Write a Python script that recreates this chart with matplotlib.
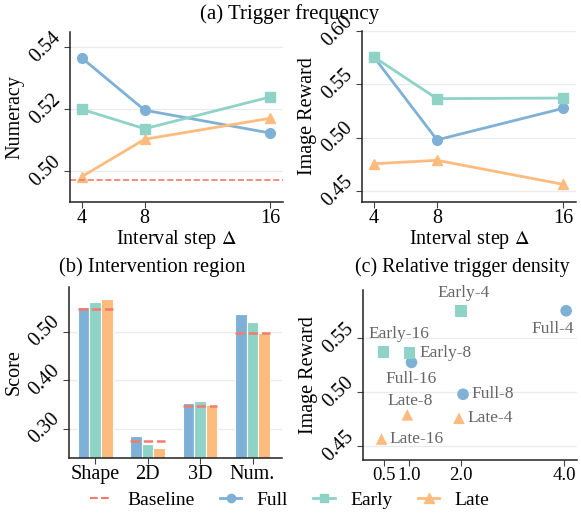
import numpy as np
import matplotlib
matplotlib.use("Agg")
import matplotlib.pyplot as plt
from matplotlib.lines import Line2D

plt.rcParams['font.family'] = ['Liberation Serif', 'DejaVu Serif']
plt.rcParams['font.size'] = 14.5
plt.rcParams['mathtext.fontset'] = 'stix'

# colours
C_FULL = '#7fb0d5'
C_EARLY = '#8fd2c6'
C_LATE = '#fdbb7e'
C_BASE = '#f47a6c'

# (a) trigger frequency
steps = [4, 8, 16]
num_full = [0.5366, 0.5197, 0.5123]
num_early = [0.5200, 0.5137, 0.5240]
num_late = [0.4982, 0.5103, 0.5171]
num_baseline = 0.497

ir_full = [0.5757, 0.4981, 0.5277]
ir_early = [0.5757, 0.5367, 0.5373]
ir_late = [0.4758, 0.4790, 0.4565]

# (b) intervention region
regions = ['Shape', '2D', '3D', 'Num.']
reg_full = [0.5514, 0.2863, 0.3540, 0.5356]
reg_early = [0.5610, 0.2692, 0.3568, 0.5199]
reg_late = [0.5678, 0.2610, 0.3486, 0.4973]
reg_baseline = [0.546, 0.274, 0.348, 0.497]

# (c) relative trigger density
dens_labels = ['Full-4', 'Full-8', 'Full-16', 'Early-4', 'Early-8', 'Early-16',
               'Late-4', 'Late-8', 'Late-16']
dens_group = ['Full'] * 3 + ['Early'] * 3 + ['Late'] * 3
dens_x = [4.0, 2.0, 1.0, 2.0, 1.0, 0.5, 2.0, 1.0, 0.5]
dens_y = [0.5757, 0.4981, 0.5277, 0.5757, 0.5367, 0.5373, 0.4758, 0.4790, 0.4565]

W, H = 581, 513
fig = plt.figure(figsize=(W / 100, H / 100), dpi=100)


def add_ax(x0, y0, x1, y1):
    return fig.add_axes([x0 / W, 1 - y1 / H, (x1 - x0) / W, (y1 - y0) / H])


def style(ax):
    for s in ['top', 'right']:
        ax.spines[s].set_visible(False)
    for s in ['left', 'bottom']:
        ax.spines[s].set_color('#222222')
        ax.spines[s].set_linewidth(1.1)
    ax.grid(axis='y', color='#ebebeb', linewidth=1)
    ax.set_axisbelow(True)
    ax.tick_params(axis='y', labelrotation=45, length=4, pad=0, color='#444444')
    ax.tick_params(axis='x', length=4, pad=1, color='#444444')
    for lab in ax.get_yticklabels():
        lab.set_va('center')


styles = {
    'Full': dict(color=C_FULL, marker='o'),
    'Early': dict(color=C_EARLY, marker='s'),
    'Late': dict(color=C_LATE, marker='^'),
}

# panel a left
ax1 = add_ax(70, 32, 283, 202)
ax1.plot(steps, num_full, lw=2, ms=7, **styles['Full'])
ax1.plot(steps, num_early, lw=2, ms=7, **styles['Early'])
ax1.plot(steps, num_late, lw=2, ms=7.5, **styles['Late'])
ax1.axhline(num_baseline, color=C_BASE, ls='--', lw=1.2)
ax1.set_xlim(3.25, 16.8)
ax1.set_ylim(0.490, 0.545)
ax1.set_xticks(steps)
ax1.set_yticks([0.50, 0.52, 0.54])
ax1.set_yticklabels(['0.50', '0.52', '0.54'])
ax1.set_xlabel(r'Interval step $\Delta$', labelpad=0)
ax1.set_ylabel('Numeracy', labelpad=1)
style(ax1)

# panel a right
ax2 = add_ax(362, 31, 576, 202)
ax2.plot(steps, ir_full, lw=2, ms=7, **styles['Full'])
ax2.plot(steps, ir_early, lw=2, ms=7, **styles['Early'])
ax2.plot(steps, ir_late, lw=2, ms=7.5, **styles['Late'])
ax2.set_xlim(3.25, 16.8)
ax2.set_ylim(0.44, 0.60)
ax2.set_xticks(steps)
ax2.set_yticks([0.45, 0.50, 0.55, 0.60])
ax2.set_yticklabels(['0.45', '0.50', '0.55', '0.60'])
ax2.set_xlabel(r'Interval step $\Delta$', labelpad=0)
ax2.set_ylabel('Image Reward', labelpad=1)
style(ax2)

fig.text(290 / W, 1 - 14 / H, '(a) Trigger frequency', ha='center', va='center', fontsize=15)

# panel b
ax3 = add_ax(69, 287, 282, 458)
xpos = np.arange(len(regions))
bw = 0.22
ax3.bar(xpos - bw, reg_full, bw, color=C_FULL, edgecolor='white', lw=0.8)
ax3.bar(xpos, reg_early, bw, color=C_EARLY, edgecolor='white', lw=0.8)
ax3.bar(xpos + bw, reg_late, bw, color=C_LATE, edgecolor='white', lw=0.8)
for i, b in enumerate(reg_baseline):
    ax3.hlines(b, i - 1.5 * bw, i + 1.5 * bw, colors=C_BASE, linestyles='--', lw=1.8)
ax3.set_xlim(-0.5, 3.56)
ax3.set_ylim(0.24, 0.592)
ax3.set_xticks(xpos)
ax3.set_xticklabels(regions)
ax3.set_yticks([0.30, 0.40, 0.50])
ax3.set_yticklabels(['0.30', '0.40', '0.50'])
ax3.set_ylabel('Score', labelpad=1)
style(ax3)
fig.text(152 / W, 1 - 267 / H, '(b) Intervention region', ha='center', va='center', fontsize=14.8)

# panel c
ax4 = add_ax(363, 290, 577, 460)
shift = {'Full': 0.04, 'Early': 0.0, 'Late': -0.04}
offsets = {
    'Full-4': (-10, -13, 'center'), 'Full-8': (6, 0, 'left'), 'Full-16': (0, -12, 'center'),
    'Early-4': (2, 13, 'center'), 'Early-8': (7, 0, 'left'), 'Early-16': (11, 13, 'center'),
    'Late-4': (6, 0, 'left'), 'Late-8': (2, 10, 'center'), 'Late-16': (6, 0, 'left'),
}
for lab, g, x, y in zip(dens_labels, dens_group, dens_x, dens_y):
    st = styles[g]
    ax4.scatter(x + shift[g], y, s=70, color=st['color'], marker=st['marker'],
                edgecolors='none', zorder=3)
    dx, dy, ha = offsets[lab]
    ax4.annotate(lab, (x + shift[g], y), xytext=(dx, dy), textcoords='offset points',
                 ha=ha, va='center', fontsize=12.5, color='#666666')
ax4.set_xlim(0.1, 4.25)
ax4.set_ylim(0.437, 0.595)
ax4.set_xticks([0.5, 1.0, 2.0, 4.0])
ax4.set_xticklabels(['0.5', '1.0', '2.0', '4.0'])
ax4.set_yticks([0.45, 0.50, 0.55])
ax4.set_yticklabels(['0.45', '0.50', '0.55'])
ax4.set_ylabel('Image Reward', labelpad=1)
style(ax4)
ax4.tick_params(axis='x', labelsize=13.5)
fig.text(462 / W, 1 - 267 / H, '(c) Relative trigger density', ha='center', va='center', fontsize=14.3)

# legend
handles = [
    Line2D([], [], color=C_BASE, ls='--', lw=1.5),
    Line2D([], [], color=C_FULL, marker='o', lw=2, ms=6),
    Line2D([], [], color=C_EARLY, marker='s', lw=2, ms=6),
    Line2D([], [], color=C_LATE, marker='^', lw=2, ms=6.5),
]
fig.legend(handles, ['Baseline', 'Full', 'Early', 'Late'], loc='center',
           bbox_to_anchor=(290 / W, 1 - 500 / H), ncol=4, frameon=False,
           handlelength=1.1, columnspacing=1.3, handletextpad=0.8, fontsize=14)

fig.savefig('out.png', dpi=100)
